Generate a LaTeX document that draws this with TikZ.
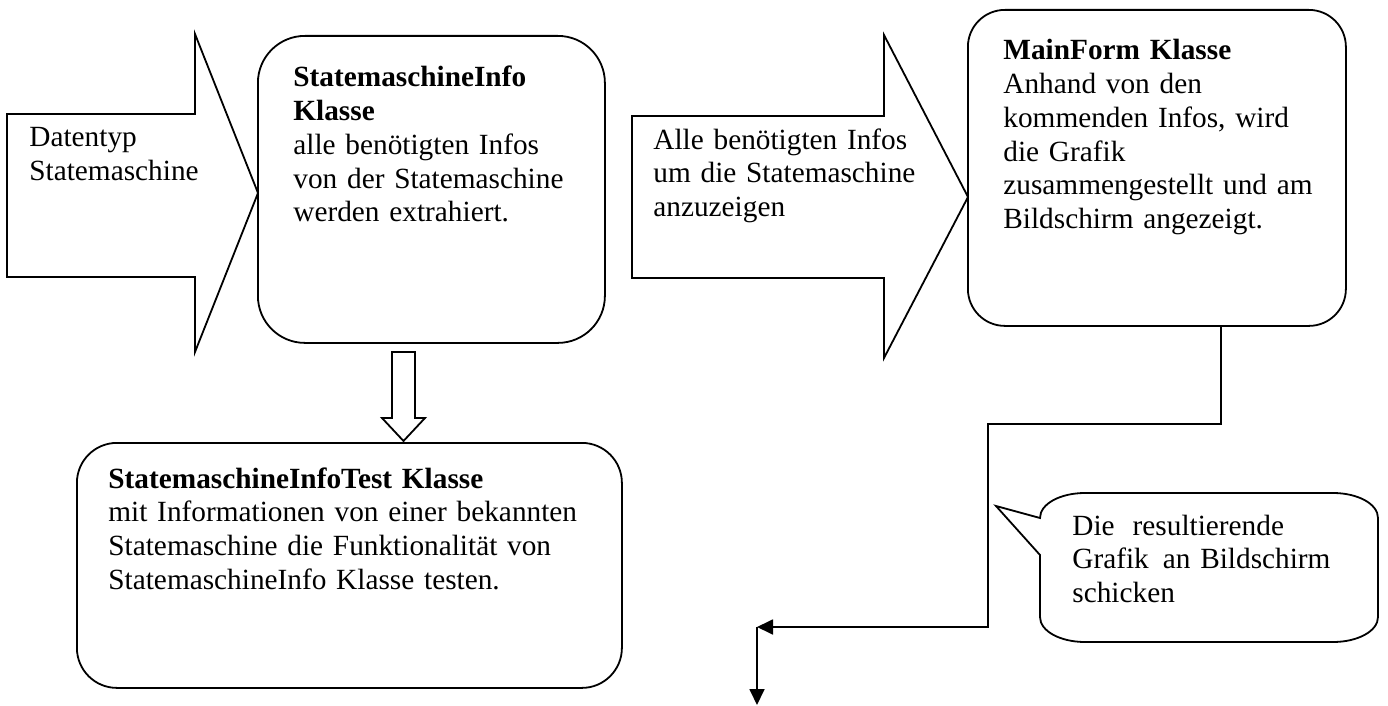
\documentclass[tikz,border=0pt]{standalone}
\usepackage{fontspec}
\setmainfont{Liberation Serif}
\usetikzlibrary{arrows.meta,calc}
\newcommand\bodyfont{\fontsize{14.65pt}{16.85pt}\selectfont}

\begin{document}
\begin{tikzpicture}[x=0.5pt,y=-0.5pt,
  outline/.style={draw=black,line width=0.9pt,line join=miter},
  panel/.style={outline,fill=white,rectangle,anchor=north west,inner sep=0pt},
  label/.style={anchor=base west,inner sep=0pt,text width=240pt,align=left,font=\bodyfont},
  link/.style={draw=black,line width=0.9pt},
  tip/.style={-{Triangle[length=8pt,width=7.5pt]}}
]
\fill[white] (0,0) rectangle (1388,706);
\useasboundingbox (0,0) rectangle (1388,706);

% block arrow: data type into the info class
\draw[outline] (7,114) -- (195,114) -- (195,34) -- (258,193) -- (195,352)
  -- (195,277) -- (7,277) -- cycle;
% block arrow: collected infos into the main form
\draw[outline] (632,116) -- (884,116) -- (884,35) -- (968,197) -- (884,358)
  -- (884,278) -- (632,278) -- cycle;

% class boxes
\node[panel,minimum width=173.5pt,minimum height=153.5pt,rounded corners=23.5pt]
  (info) at (257,35) {};
\node[panel,minimum width=189pt,minimum height=158pt,rounded corners=18.5pt]
  (mf) at (967,9) {};
\node[panel,minimum width=272.5pt,minimum height=122.5pt,rounded corners=20pt]
  (test) at (76,442) {};

% hollow block arrow from the info class down to its test class
\draw[outline] (392,352) -- (415,352) -- (415,418) -- (425,418) -- (403.5,441)
  -- (382,418) -- (392,418) -- cycle;

% speech bubble
\draw[outline] (1040,518) -- (996,506) -- (1040,555) -- (1040,617)
  .. controls (1040,631) and (1060,642) .. (1085,642) -- (1333,642)
  .. controls (1358,642) and (1378,631) .. (1378,617) -- (1378,518)
  .. controls (1378,504) and (1358,493) .. (1333,493) -- (1085,493)
  .. controls (1060,493) and (1040,504) .. (1040,518) -- cycle;

% texts
\node[label] (t1) at (29,147) {Datentyp\\Statemaschine};
\node[label] (t2) at (653,149) {Alle benötigten Infos\\um die Statemaschine\\anzuzeigen};
\node[label] (t3) at (293,87) {\textbf{StatemaschineInfo}\\\textbf{Klasse}\\alle benötigten Infos\\von der Statemaschine\\werden extrahiert.};
\node[label] (t4) at (1003,60) {\textbf{MainForm Klasse}\\Anhand von den\\kommenden Infos, wird\\die Grafik\\zusammengestellt und am\\Bildschirm angezeigt.};
\node[label] (t5) at (108,488) {\textbf{StatemaschineInfoTest Klasse}\\mit Informationen von einer bekannten\\Statemaschine die Funktionalität von\\StatemaschineInfo Klasse testen.};
\node[label] (t6) at (1072,535) {Die\hspace{9pt}resultierende\\Grafik\hspace{7pt}an Bildschirm\\schicken};

% output connector from the main form
\coordinate (k1) at (1221,424);
\coordinate (k2) at (988,424);
\coordinate (k3) at (988,627);
\coordinate (bend) at (757,627);
\coordinate (out) at (757,705);
\draw[link,tip] (mf.south -| k1) -- (k1) -- (k2) -- (k3) -- (bend);
\draw[link,tip] (bend) -- (out);
\end{tikzpicture}
\end{document}
